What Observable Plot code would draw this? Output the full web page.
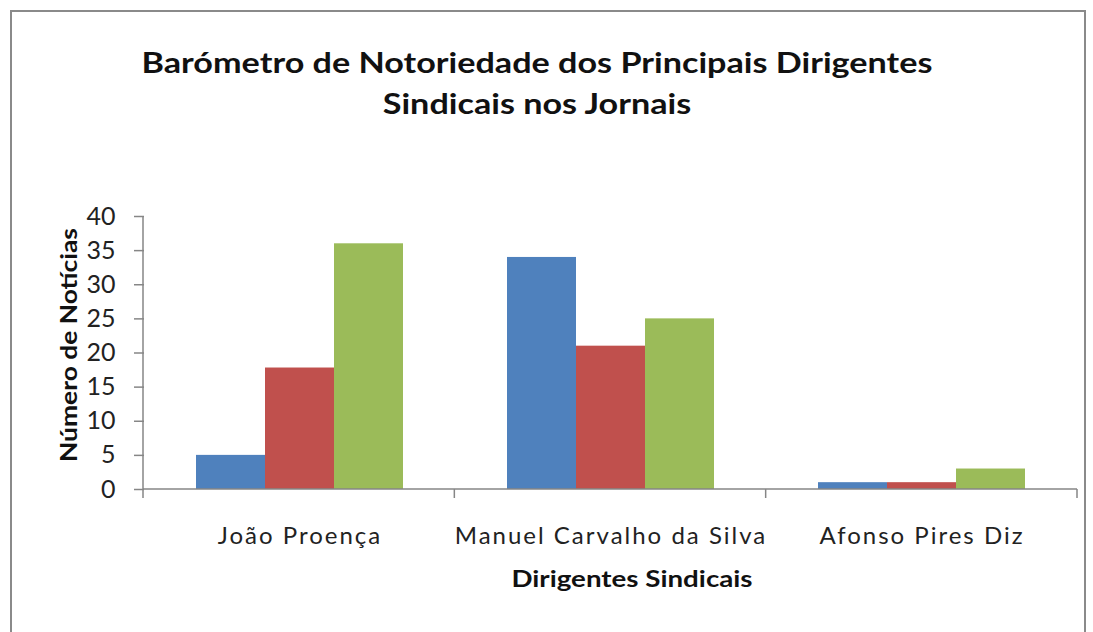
<!DOCTYPE html>
<html>
<head>
<meta charset="utf-8">
<script src="https://cdn.jsdelivr.net/npm/d3@7"></script>
<script src="https://cdn.jsdelivr.net/npm/@observablehq/plot@0.6"></script>
<style>
  html, body { margin: 0; padding: 0; background: #fff; overflow: hidden; }
  #wrap { position: relative; width: 1093px; height: 632px; overflow: hidden; font-family: Lato, "Open Sans", sans-serif; }
  #frame { position: absolute; left: 10px; top: 10px; width: 1076px; height: 700px; border: 2.5px solid #8a8a8a; box-sizing: border-box; }
  .title { position: absolute; left: 537px; transform: translate(-50%, -50%) scaleX(1.22); white-space: nowrap; font-weight: bold; font-size: 28px; color: #111; }
  #ylabel { position: absolute; left: 68px; top: 345px; transform: translate(-50%, -50%) rotate(-90deg) scaleX(1.2); white-space: nowrap; font-weight: bold; font-size: 22px; color: #111; }
  #xlabel { position: absolute; left: 632px; top: 578px; transform: translate(-50%, -50%) scaleX(1.26); white-space: nowrap; font-weight: bold; font-size: 22px; color: #111; }
  #chart { position: absolute; left: 0; top: 0; }
</style>
</head>
<body>
<div id="wrap">
  <div id="frame"></div>
  <div class="title" style="top:62px">Barómetro de Notoriedade dos Principais Dirigentes</div>
  <div class="title" style="top:103px">Sindicais nos Jornais</div>
  <div id="chart"></div>
  <div id="ylabel">Número de Notícias</div>
  <div id="xlabel">Dirigentes Sindicais</div>
</div>
<script>
const categories = ["João Proença", "Manuel Carvalho da Silva", "Afonso Pires Diz"];
const seriesNames = ["Série 1", "Série 2", "Série 3"];
const serie1 = [5, 34, 1];
const serie2 = [17.8, 21, 1];
const serie3 = [36, 25, 3];
const seriesColors = ["#4F81BD", "#C0504D", "#9BBB59"];
const yTicks = [0, 5, 10, 15, 20, 25, 30, 35, 40];

const allSeries = [serie1, serie2, serie3];
const rows = [];
categories.forEach((c, i) => {
  seriesNames.forEach((s, j) => rows.push({cat: c, serie: s, value: allSeries[j][i]}));
});

const axisGray = "#868686";

const plot = Plot.plot({
  width: 1093,
  height: 632,
  marginLeft: 143,
  marginRight: 16,
  marginTop: 216,
  marginBottom: 143,
  style: {fontFamily: "Lato, 'Open Sans', sans-serif", background: "transparent"},
  fx: {domain: categories, padding: 0, label: null},
  x: {domain: seriesNames, paddingInner: 0, paddingOuter: 0.75, axis: null},
  y: {domain: [0, 40], label: null},
  color: {domain: seriesNames, range: seriesColors},
  marks: [
    Plot.barY(rows, {fx: "cat", x: "serie", y: "value", fill: "serie"}),
    Plot.axisY({ticks: yTicks, tickSize: 10, tickPadding: 19, fontSize: 25, stroke: axisGray, strokeWidth: 1.5, fill: "#222", label: null}),
    Plot.axisFx({anchor: "bottom", tickSize: 0, tickPadding: 37, fontSize: 24, fill: "#222", label: null})
  ]
});
document.getElementById("chart").appendChild(plot);

// axis lines and category boundary ticks, from the plot's own scales
const fxDesc = plot.scale("fx");
const yDesc = plot.scale("y");
const fxScale = d3.scaleBand().domain(fxDesc.domain).range(fxDesc.range)
  .paddingInner(fxDesc.paddingInner || 0).paddingOuter(fxDesc.paddingOuter || 0);
const yScale = d3.scaleLinear().domain(yDesc.domain).range(yDesc.range);
const edges = categories.map(c => fxScale(c));
edges.push(fxScale(categories[categories.length - 1]) + fxScale.bandwidth());
const y0 = yScale(0), yTop = yScale(d3.max(yTicks));
const svg = d3.select(plot);
const g = svg.append("g").attr("stroke", axisGray).attr("stroke-width", 1.5);
g.append("line").attr("x1", edges[0]).attr("x2", edges[edges.length - 1]).attr("y1", y0).attr("y2", y0);
g.append("line").attr("x1", edges[0]).attr("x2", edges[0]).attr("y1", yTop).attr("y2", y0);
edges.forEach(e => g.append("line").attr("x1", e).attr("x2", e).attr("y1", y0).attr("y2", y0 + 9));

// widen category labels a little (reference font is broad)
svg.selectAll('g[aria-label="fx-axis tick label"] text').style("letter-spacing", "2px");
</script>
</body>
</html>
